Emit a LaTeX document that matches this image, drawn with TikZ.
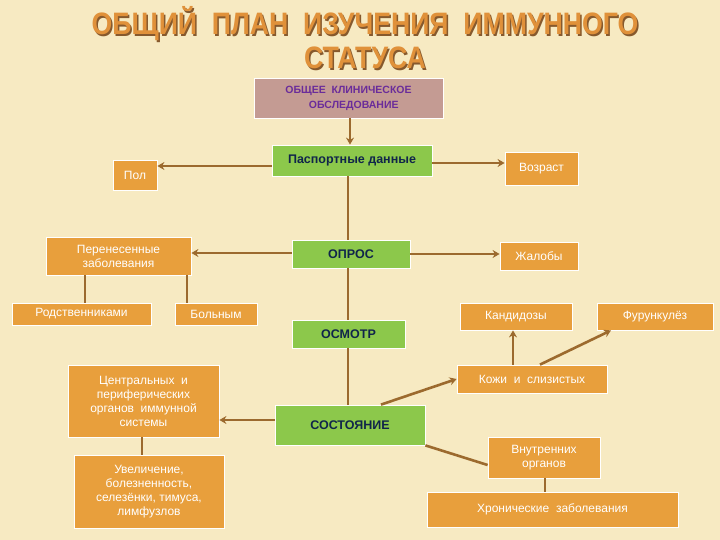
\documentclass[tikz,border=0pt]{standalone}
\usepackage{fontspec}
\setmainfont{Liberation Sans}
\usetikzlibrary{arrows.meta}
\definecolor{bgc}{HTML}{F7EAC2}
\definecolor{org}{HTML}{E89F3C}
\definecolor{grn}{HTML}{8CC84B}
\definecolor{ros}{HTML}{C49B93}
\definecolor{lnk}{HTML}{9C6A2E}
\definecolor{ttl}{HTML}{E0913A}
\definecolor{nav}{HTML}{10254A}
\definecolor{pur}{HTML}{6A2C9A}
\tikzset{
 ob/.style={fill=org,text=white,font=\fontsize{12}{14}\selectfont,align=center,inner sep=0pt,draw=white,line width=0.8pt},
 gb/.style={fill=grn,text=nav,font=\bfseries\fontsize{12.5}{14}\selectfont,align=center,inner sep=0pt,draw=white,line width=0.8pt},
 ln/.style={draw=lnk,line width=2.6pt},
 ar/.style={ln,-{Stealth[length=7pt,width=8pt]}},
 tt/.style={font=\bfseries\fontsize{31}{34}\selectfont,align=center,xscale=0.86},
}
\newcommand{\bx}[6]{\node[#1,minimum width=#4-#2,minimum height=#5-#3] (#6) at ({(#2+#4)/2},{(#3+#5)/2})}
\begin{document}
\begin{tikzpicture}[x=1pt,y=-1pt]
\fill[bgc] (0,0) rectangle (720,540);
\useasboundingbox (0,0) rectangle (720,540);
\node[tt,text=brown!70!black] (titlesh) at (366.5,39.5) {ОБЩИЙ \ ПЛАН \ ИЗУЧЕНИЯ \ ИММУННОГО\\СТАТУСА};
\node[tt,text=ttl] (title) at (365,38) {ОБЩИЙ \ ПЛАН \ ИЗУЧЕНИЯ \ ИММУННОГО\\СТАТУСА};
\bx{fill=ros,text=pur,font=\bfseries\fontsize{10.5}{15}\selectfont,align=center,inner sep=0pt,draw=white}{254}{78}{443}{118}{obs} {ОБЩЕЕ \ КЛИНИЧЕСКОЕ\\\quad ОБСЛЕДОВАНИЕ};
\bx{gb}{272}{145}{432}{176}{pasp} {Паспортные данные};
\bx{ob}{113}{160}{157}{190}{pol} {Пол};
\bx{ob}{505}{152}{578}{185}{vozr} {Возраст};
\bx{ob}{46}{237}{191}{275}{pere} {Перенесенные\\заболевания};
\bx{gb}{292}{240}{410}{268}{opros} {ОПРОС};
\bx{ob}{500}{242}{578}{270}{zhal} {Жалобы};
\bx{ob}{12}{303}{151}{325}{rodst} {Родственниками};
\bx{ob}{175}{303}{257}{325}{boln} {Больным};
\bx{ob}{460}{303}{572}{330}{kand} {Кандидозы};
\bx{ob}{597}{303}{713}{330}{furu} {Фурункулёз};
\bx{gb}{292}{320}{405}{348}{osm} {ОСМОТР};
\bx{ob}{68}{365}{219}{437}{centr} {Центральных \ и\\периферических\\органов \ иммунной\\системы};
\bx{ob}{457}{365}{607}{393}{kozh} {Кожи \ и \ слизистых};
\bx{gb}{275}{405}{425}{445}{sost} {СОСТОЯНИЕ};
\bx{ob}{74}{455}{224}{528}{uvel} {Увеличение,\\болезненность,\\селезёнки, тимуса,\\лимфузлов};
\bx{ob}{488}{437}{600}{478}{vnutr} {Внутренних\\органов};
\bx{ob}{427}{492}{678}{527}{hron} {Хронические \ заболевания};
% connectors
\draw[ar] (obs.south-|350,0) -- (pasp.north-|350,0);
\draw[ar] (pasp.west|-0,166) -- (pol.east|-0,166);
\draw[ar] (pasp.east|-0,163) -- (vozr.west|-0,163);
\draw[ln] (pasp.south-|348,0) -- (opros.north-|348,0);
\draw[ln] (opros.south-|348,0) -- (osm.north-|348,0);
\draw[ln] (osm.south-|348,0) -- (sost.north-|348,0);
\draw[ar] (opros.west|-0,253) -- (pere.east|-0,253);
\draw[ar] (opros.east|-0,254) -- (zhal.west|-0,254);
\draw[ln] (pere.south-|85,0) -- (rodst.north-|85,0);
\draw[ln] (pere.south-|187,0) -- (boln.north-|187,0);
\draw[ar] (sost.north-|381,0) -- (kozh.west);
\draw[ar] (kozh.north-|513,0) -- (kand.south-|513,0);
\draw[ar] (kozh.north-|540,0) -- (furu.south-|611,0);
\draw[ar] (sost.west|-0,420) -- (centr.east|-0,420);
\draw[ln] (sost.south east) -- (vnutr.west|-0,465);
\draw[ln] (centr.south-|142,0) -- (uvel.north-|142,0);
\draw[ln] (vnutr.south-|545,0) -- (hron.north-|545,0);
\end{tikzpicture}
\end{document}
